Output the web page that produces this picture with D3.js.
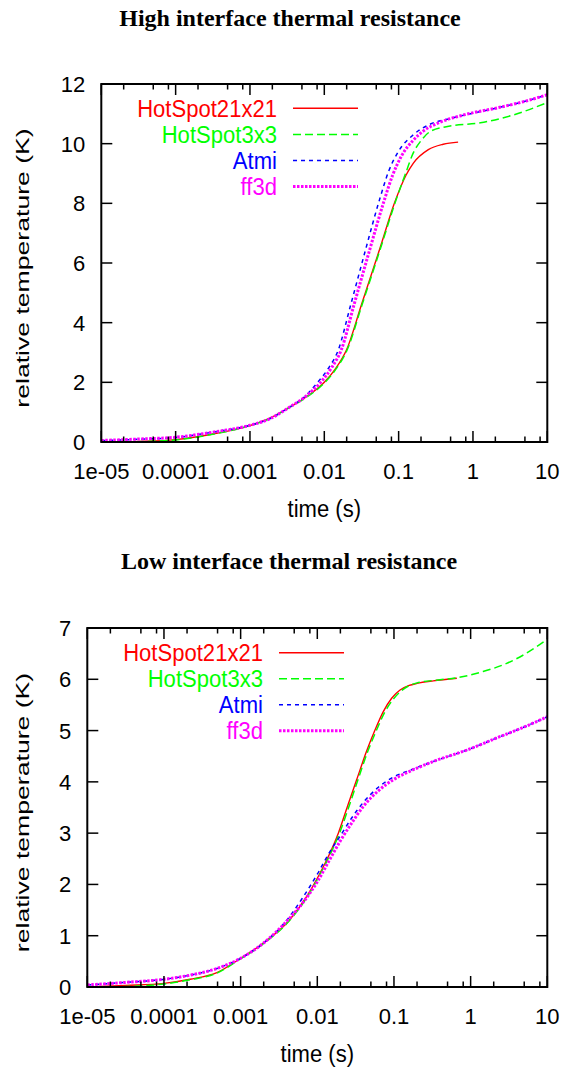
<!DOCTYPE html>
<html>
<head>
<meta charset="utf-8">
<script src="https://cdn.jsdelivr.net/npm/d3@7"></script>
<style>
  body { margin: 0; background: #fff; }
  svg { display: block; }
</style>
</head>
<body>
<div id="chart-area"></div>
<script>
/*
*    two gnuplot-style transient panels
*/

// shared axis data
var timeTicks = [1e-5, 1e-4, 1e-3, 1e-2, 1e-1, 1, 10];
var timeTickLabels = ["1e-05", "0.0001", "0.001", "0.01", "0.1", "1", "10"];
var minorSteps = [2, 5, 8];
var seriesNames = ["HotSpot21x21", "HotSpot3x3", "Atmi", "ff3d"];
var seriesColors = ["#ff0000", "#00ff00", "#0000ff", "#ff00ff"];
var highTempTicks = [0, 2, 4, 6, 8, 10, 12];
var lowTempTicks = [0, 1, 2, 3, 4, 5, 6, 7];

// high interface thermal resistance: [time (s), relative temperature (K)]
var highHotSpot21 = [[1e-5,0],[3.16e-5,0.02],[1e-4,0.08],[3.16e-4,0.27],[1e-3,0.55],[1.78e-3,0.78],[3.16e-3,1.12],
    [5.62e-3,1.5],[0.01,2.0],[0.0141,2.45],[0.02,3.1],[0.0316,4.6],[0.0562,6.5],[0.0891,8.05],[0.126,8.95],
    [0.158,9.35],[0.251,9.8],[0.398,9.98],[0.631,10.05]];
var highHotSpot3 = [[2e-5,0],[1e-4,0.07],[3.16e-4,0.26],[1e-3,0.55],[1.78e-3,0.77],[3.16e-3,1.11],[5.62e-3,1.48],
    [0.0102,2.0],[0.0144,2.45],[0.0204,3.1],[0.0322,4.6],[0.0572,6.5],[0.0891,8.0],[0.112,8.7],[0.126,9.05],
    [0.158,9.7],[0.2,10.1],[0.263,10.4],[0.437,10.57],[1.26,10.7],[3.47,10.96],[10,11.38]];
var highAtmi = [[1e-5,0.05],[3.16e-5,0.09],[1e-4,0.15],[3.16e-4,0.33],[1e-3,0.56],[1.78e-3,0.76],[3.47e-3,1.18],
    [5.62e-3,1.55],[7.94e-3,1.97],[0.0112,2.45],[0.0155,3.1],[0.0224,4.55],[0.0355,6.4],[0.055,8.1],[0.0741,9.1],
    [0.1,9.75],[0.158,10.3],[0.263,10.65],[0.501,10.85],[1,11.02],[2.04,11.19],[5.01,11.42],[10,11.64]];
var highFf3d = [[1e-5,0.05],[3.16e-5,0.1],[1e-4,0.16],[3.16e-4,0.33],[1e-3,0.56],[1.78e-3,0.76],[3.47e-3,1.18],
    [5.62e-3,1.53],[8.71e-3,1.97],[0.0126,2.5],[0.017,3.1],[0.0251,4.6],[0.0398,6.35],[0.0631,8.05],[0.0832,8.95],
    [0.11,9.6],[0.158,10.12],[0.214,10.42],[0.363,10.72],[0.741,10.96],[2.04,11.19],[5.01,11.42],[10,11.64]];

// low interface thermal resistance
var lowHotSpot21 = [[1e-5,0],[3.16e-5,0.03],[1e-4,0.07],[2.19e-4,0.15],[4.9e-4,0.28],[1e-3,0.56],[2e-3,0.86],
    [4.37e-3,1.31],[7.24e-3,1.76],[0.01,2.12],[0.0133,2.48],[0.0188,3.0],[0.0251,3.55],[0.0326,4.04],[0.044,4.6],
    [0.0562,5.0],[0.0726,5.37],[0.0933,5.63],[0.12,5.79],[0.158,5.88],[0.2,5.92],[0.326,5.97],[0.661,6.02]];
var lowHotSpot3 = [[2e-5,0],[1e-4,0.06],[2.19e-4,0.14],[4.9e-4,0.27],[1e-3,0.55],[2e-3,0.85],[4.37e-3,1.3],
    [7.41e-3,1.76],[0.0102,2.12],[0.0136,2.48],[0.0195,3.0],[0.0263,3.55],[0.0339,4.04],[0.0457,4.6],[0.0589,5.0],
    [0.0759,5.36],[0.0977,5.61],[0.126,5.78],[0.2,5.93],[0.398,5.99],[0.661,6.03],[1.45,6.15],[2.95,6.31],
    [5.37,6.51],[10,6.78]];
var lowAtmi = [[1e-5,0.04],[3.16e-5,0.09],[1e-4,0.15],[2.19e-4,0.23],[4.9e-4,0.36],[1e-3,0.56],[2e-3,0.86],
    [3.98e-3,1.3],[6.31e-3,1.72],[0.01,2.2],[0.0141,2.6],[0.02,2.95],[0.0282,3.3],[0.0398,3.6],[0.0631,3.9],
    [0.1,4.1],[0.158,4.22],[0.316,4.39],[0.891,4.62],[2.4,4.88],[5.01,5.07],[10,5.27]];
var lowFf3d = [[1e-5,0.04],[3.16e-5,0.09],[1e-4,0.15],[2.19e-4,0.23],[4.9e-4,0.36],[1e-3,0.56],[2e-3,0.86],
    [3.98e-3,1.28],[6.31e-3,1.62],[0.01,2.05],[0.0141,2.45],[0.02,2.85],[0.0282,3.2],[0.0398,3.52],[0.0631,3.83],
    [0.1,4.05],[0.158,4.2],[0.316,4.39],[0.891,4.62],[2.4,4.88],[5.01,5.07],[10,5.27]];

var width = 566;
var height = 1068;

var lineStyles = [
    { width: 1.4, dash: null },
    { width: 1.5, dash: "8,4" },
    { width: 1.5, dash: "4,4" },
    { width: 3, dash: "2.5,1.5" }
];

var svg = d3.select("#chart-area").append("svg")
    .attr("width", width)
    .attr("height", height);

function addText(g, x, y, txt, size, sx, anchor, extra) {
    var t = g.append("text")
        .attr("transform", "translate(" + x + "," + y + ")" + (extra || "") + " scale(" + sx + ",1)")
        .attr("font-family", "'Liberation Sans', Arial, sans-serif")
        .attr("font-size", size + "px")
        .attr("text-anchor", anchor)
        .attr("fill", "#000")
        .text(txt);
    return t;
}

function drawPanel(p) {
    var g = svg.append("g");

    var x = d3.scaleLog()
        .domain([1e-5, 10])
        .range([p.left, p.right]);
    var y = d3.scaleLinear()
        .domain([0, p.yMax])
        .range([p.bottom, p.top]);

    // title
    g.append("text")
        .attr("x", p.titleX)
        .attr("y", p.titleY)
        .attr("font-family", "'Liberation Serif', 'Times New Roman', serif")
        .attr("font-weight", "bold")
        .attr("font-size", "24px")
        .attr("text-anchor", "middle")
        .text(p.title);

    // clip
    var clipId = "clip-" + p.id;
    g.append("clipPath").attr("id", clipId)
        .append("rect")
        .attr("x", p.left).attr("y", p.top)
        .attr("width", p.right - p.left).attr("height", p.bottom - p.top);

    // curves
    var line = d3.line()
        .x((d) => { return x(d[0]); })
        .y((d) => { return y(d[1]); })
        .curve(d3.curveMonotoneX);

    p.series.forEach((data, i) => {
        g.append("path")
            .attr("clip-path", "url(#" + clipId + ")")
            .attr("d", line(data))
            .attr("fill", "none")
            .attr("stroke", seriesColors[i])
            .attr("stroke-width", lineStyles[i].width)
            .attr("stroke-dasharray", lineStyles[i].dash);
    });

    // x ticks (major + minor), inward, mirrored on top
    var minorTicks = [];
    timeTicks.slice(0, -1).forEach((t) => {
        minorSteps.forEach((m) => { minorTicks.push(t * m); });
    });
    var ticks = g.append("g").attr("stroke", "#000").attr("stroke-width", 1.5);
    timeTicks.forEach((t) => {
        ticks.append("line").attr("x1", x(t)).attr("x2", x(t)).attr("y1", p.bottom).attr("y2", p.bottom - 11);
        ticks.append("line").attr("x1", x(t)).attr("x2", x(t)).attr("y1", p.top).attr("y2", p.top + 11);
    });
    minorTicks.forEach((t) => {
        ticks.append("line").attr("x1", x(t)).attr("x2", x(t)).attr("y1", p.bottom).attr("y2", p.bottom - 5.5);
        ticks.append("line").attr("x1", x(t)).attr("x2", x(t)).attr("y1", p.top).attr("y2", p.top + 5.5);
    });
    p.yTicks.forEach((v) => {
        ticks.append("line").attr("x1", p.left).attr("x2", p.left + 11).attr("y1", y(v)).attr("y2", y(v));
        ticks.append("line").attr("x1", p.right).attr("x2", p.right - 11).attr("y1", y(v)).attr("y2", y(v));
    });

    // frame
    g.append("rect")
        .attr("x", p.left).attr("y", p.top)
        .attr("width", p.right - p.left).attr("height", p.bottom - p.top)
        .attr("fill", "none")
        .attr("stroke", "#000")
        .attr("stroke-width", 2);

    // tick labels
    timeTicks.forEach((t, i) => {
        addText(g, x(t), p.bottom + 36.5, timeTickLabels[i], 22, 1, "middle");
    });
    p.yTicks.forEach((v) => {
        addText(g, p.left - 16, y(v) + 8, String(v), 22, 1, "end");
    });

    // axis labels
    addText(g, (p.left + p.right) / 2, p.bottom + 75, "time (s)", 24, 0.92, "middle");
    addText(g, 29, (p.top + p.bottom) / 2 + 5, "relative temperature (K)", 19, 1.4, "middle", " rotate(-90)");

    // legend
    seriesNames.forEach((name, i) => {
        var ly = p.legendY + i * p.legendDy;
        addText(g, p.legendRight, ly + 8.5, name, 24, 0.92, "end")
            .attr("fill", seriesColors[i]);
        g.append("line")
            .attr("x1", p.sampleX0).attr("x2", p.sampleX1)
            .attr("y1", ly).attr("y2", ly)
            .attr("stroke", seriesColors[i])
            .attr("stroke-width", lineStyles[i].width)
            .attr("stroke-dasharray", lineStyles[i].dash);
    });
}

drawPanel({
    id: "high",
    title: "High interface thermal resistance",
    titleX: 290, titleY: 26,
    left: 101.3, right: 547.3, top: 84, bottom: 442,
    yMax: 12, yTicks: highTempTicks,
    series: [highHotSpot21, highHotSpot3, highAtmi, highFf3d],
    legendRight: 277, sampleX0: 293, sampleX1: 358, legendY: 108.3, legendDy: 26.1
});

drawPanel({
    id: "low",
    title: "Low interface thermal resistance",
    titleX: 289, titleY: 569,
    left: 87.3, right: 547.3, top: 628, bottom: 987,
    yMax: 7, yTicks: lowTempTicks,
    series: [lowHotSpot21, lowHotSpot3, lowAtmi, lowFf3d],
    legendRight: 263, sampleX0: 279, sampleX1: 344, legendY: 652.7, legendDy: 26
});
</script>
</body>
</html>
